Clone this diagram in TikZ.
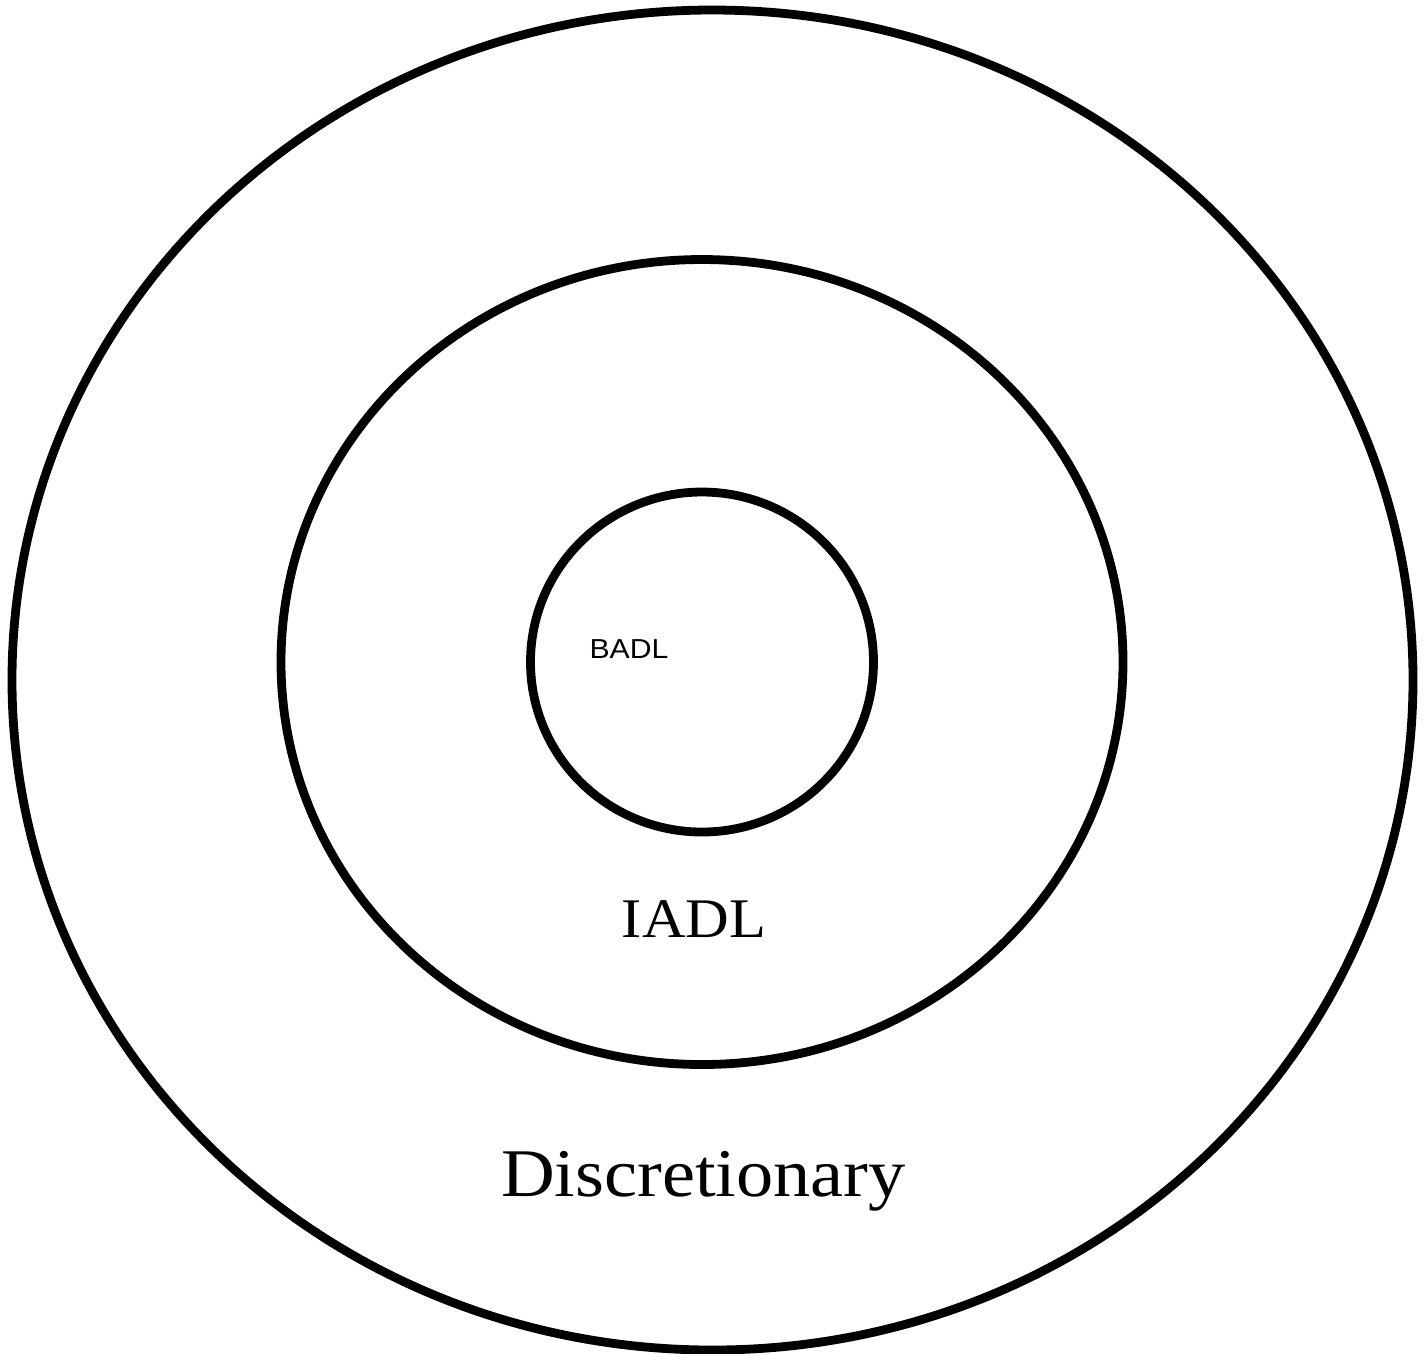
\documentclass[tikz,border=0pt]{standalone}
\usepackage{fontspec}
\setmainfont{Liberation Serif}
\setsansfont{Liberation Sans}
\usepackage{tikz}
\tikzset{ring/.style={line width=2.5pt},
  lbl/.style={anchor=base, inner sep=0pt}}

\begin{document}
\begin{tikzpicture}[x=0.01cm, y=-0.01cm]
\useasboundingbox (0,0) rectangle (1427,1353);

\draw[ring] (712.5, 680) ellipse [x radius=700.5, y radius=670];
\draw[ring] (702, 662) ellipse [x radius=421, y radius=402.5];
\draw[ring] (702, 662) ellipse [x radius=171.5, y radius=170];

\node[lbl] (badl) at (629, 658) {\sffamily\fontsize{7.8pt}{9pt}\selectfont\scalebox{1.1}[1]{BADL}};
\node[lbl] (iadl) at (694, 937) {\fontsize{15.9pt}{18pt}\selectfont\scalebox{1.08}[1]{IADL}};
\node[lbl] (disc) at (703.5, 1196) {\fontsize{19.4pt}{22pt}\selectfont\scalebox{1.09}[1]{Discretionary}};

\end{tikzpicture}
\end{document}
